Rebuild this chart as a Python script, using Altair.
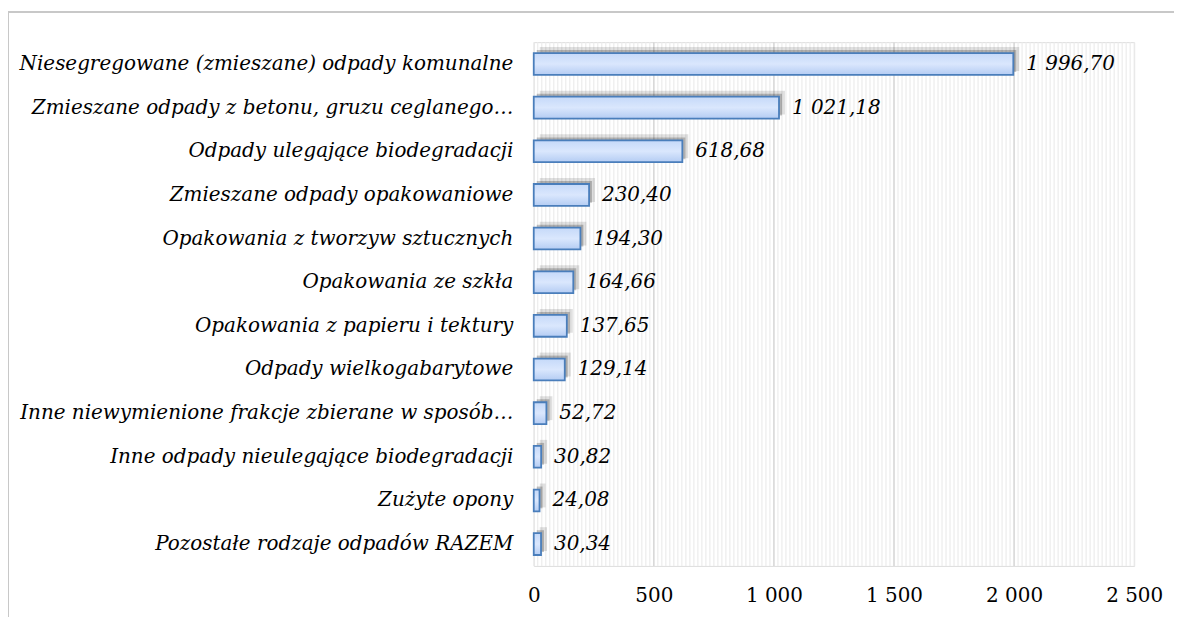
import altair as alt
import pandas as pd
import numpy as np

categories = [
    "Niesegregowane (zmieszane) odpady komunalne",
    "Zmieszane odpady z betonu, gruzu ceglanego…",
    "Odpady ulegające biodegradacji",
    "Zmieszane odpady opakowaniowe",
    "Opakowania z tworzyw sztucznych ",
    "Opakowania ze szkła",
    "Opakowania z papieru i tektury",
    "Odpady wielkogabarytowe",
    "Inne niewymienione frakcje zbierane w sposób…",
    "Inne odpady nieulegające biodegradacji",
    "Zużyte opony",
    "Pozostałe rodzaje odpadów RAZEM",
]
values = [1996.70, 1021.18, 618.68, 230.40, 194.30, 164.66, 137.65, 129.14, 52.72, 30.82, 24.08, 30.34]
x_ticks = [0, 500, 1000, 1500, 2000, 2500]

labels = [f"{v:,.2f}".replace(",", " ").replace(".", ",") for v in values]
df = pd.DataFrame({"cat": categories, "v": values, "lab": labels})

stripe_df = pd.DataFrame({"s": np.arange(0, 2500.01, 500 / 30)})
major_df = pd.DataFrame({"m": x_ticks[1:-1]})

W, H = 603, 526
FONT = "DejaVu Serif"

xscale = alt.Scale(domain=[0, 2500], nice=False)
yscale = alt.Scale(domain=categories, paddingInner=0.5, paddingOuter=0.25)

xaxis = alt.Axis(values=x_ticks, grid=False, ticks=False, domain=False,
                 labelFont=FONT, labelFontSize=20, labelColor="#000000",
                 labelPadding=20, labelFlush=False,
                 labelExpr="replace(format(datum.value, ',d'), ',', ' ')")

yaxis = alt.Axis(labelFont=FONT, labelFontStyle="italic", labelFontSize=20,
                 labelColor="#000000", labelLimit=700, ticks=False, domain=False,
                 labelPadding=21, minExtent=523, maxExtent=523)

stripes = alt.Chart(stripe_df).mark_rule(color="#ececec", strokeWidth=1.2).encode(
    x=alt.X("s:Q", scale=xscale, title=None, axis=xaxis)
)
majors = alt.Chart(major_df).mark_rule(color="#d4d4d4", strokeWidth=1.3).encode(
    x=alt.X("m:Q", scale=xscale, title=None)
)

ycommon = alt.Y("cat:N", sort=categories, scale=yscale, title=None, axis=yaxis)

shadow1 = alt.Chart(df).mark_bar(color="#000000", opacity=0.22, yOffset=-3, xOffset=3).encode(
    x=alt.X("v:Q", scale=xscale, title=None),
    y=ycommon,
)
shadow2 = alt.Chart(df).mark_bar(color="#000000", opacity=0.12, yOffset=-5, xOffset=6, size=24).encode(
    x=alt.X("v:Q", scale=xscale, title=None),
    y=ycommon,
)

grad = {
    "gradient": "linear", "x1": 0, "y1": 0, "x2": 0, "y2": 1,
    "stops": [
        {"offset": 0, "color": "#c5d9f9"},
        {"offset": 0.5, "color": "#dae7fd"},
        {"offset": 1, "color": "#b4ccf3"},
    ],
}
bars = alt.Chart(df).mark_bar(color=grad, stroke="#4a7ebb", strokeWidth=1.8).encode(
    x=alt.X("v:Q", scale=xscale, title=None),
    y=ycommon,
)

texts = alt.Chart(df).mark_text(align="left", baseline="middle", dx=13, font=FONT,
                                fontStyle="italic", fontSize=20, color="#000000").encode(
    x=alt.X("v:Q", scale=xscale, title=None),
    y=ycommon,
    text="lab:N",
)

border_left = alt.Chart(df).mark_rule(color="#c8c8c8", strokeWidth=1.5).encode(
    x=alt.value(-528), y=alt.value(-30), y2=alt.value(H + 60)
)
border_top = alt.Chart(df).mark_rule(color="#c8c8c8", strokeWidth=1.5).encode(
    x=alt.value(-528), x2=alt.value(W + 60), y=alt.value(-30)
)

chart = alt.layer(stripes, majors, shadow2, shadow1, bars, texts, border_left, border_top).properties(
    width=W, height=H,
    autosize=alt.AutoSizeParams(type="none"),
    padding={"left": 528, "top": 33, "right": 40, "bottom": 50},
).configure_view(stroke="#d4d4d4", strokeWidth=1.5).configure(background="#ffffff")

chart.save("out.html", embed_options={"renderer": "svg", "actions": False})
